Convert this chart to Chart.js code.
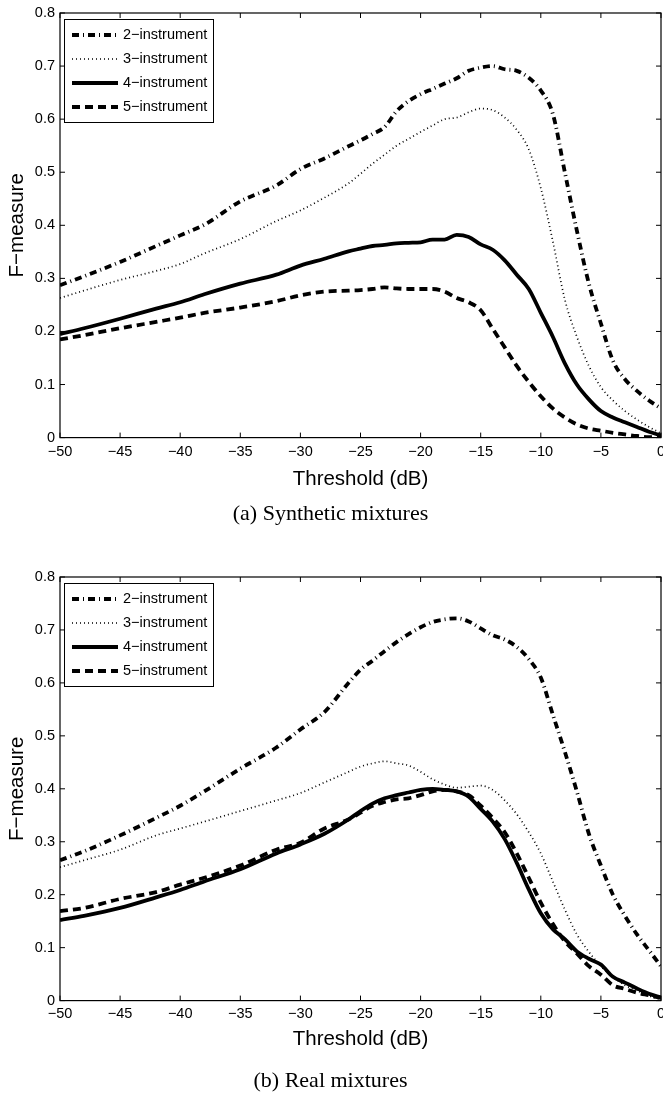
<!DOCTYPE html>
<html><head><meta charset="utf-8">
<script src="https://cdn.jsdelivr.net/npm/chart.js@4.4.1/dist/chart.umd.min.js"></script>
<style>
html,body{margin:0;padding:0;background:#fff;overflow:hidden;width:663px;height:1094px}
canvas{display:block}
</style></head><body>
<canvas id="c1" width="663" height="547"></canvas>
<canvas id="c2" width="663" height="547"></canvas>
<script>
// ---- data ----
const thresholds = [-50,-48,-45,-42,-40,-38,-35,-32,-30,-28,-26,-25,-24,-23,-22,-21,-20,-19,-18,-17,-16,-15,-14,-13,-12,-11,-10,-9,-8,-7,-6,-5,-4,-3,-2,-1,0];

const synth2 = [0.287,0.304,0.331,0.361,0.381,0.401,0.445,0.475,0.506,0.526,0.549,0.56,0.572,0.585,0.615,0.634,0.647,0.657,0.667,0.677,0.691,0.697,0.70,0.694,0.691,0.678,0.654,0.61,0.50,0.39,0.29,0.215,0.145,0.11,0.088,0.07,0.055];
const synth3 = [0.263,0.277,0.297,0.314,0.327,0.347,0.374,0.408,0.428,0.452,0.479,0.497,0.516,0.533,0.55,0.563,0.576,0.588,0.6,0.603,0.613,0.62,0.617,0.603,0.58,0.543,0.47,0.37,0.26,0.19,0.135,0.095,0.07,0.05,0.034,0.02,0.008];
const synth4 = [0.195,0.206,0.224,0.243,0.255,0.27,0.29,0.307,0.324,0.337,0.351,0.356,0.361,0.363,0.366,0.367,0.368,0.373,0.373,0.382,0.378,0.364,0.354,0.334,0.307,0.28,0.235,0.19,0.14,0.10,0.072,0.05,0.038,0.029,0.02,0.011,0.004];
const synth5 = [0.185,0.193,0.206,0.218,0.226,0.235,0.245,0.257,0.268,0.275,0.277,0.278,0.28,0.283,0.281,0.28,0.28,0.28,0.275,0.263,0.255,0.24,0.205,0.17,0.135,0.105,0.078,0.055,0.038,0.025,0.017,0.013,0.009,0.006,0.003,0.001,0.001];

const real2 = [0.265,0.282,0.312,0.345,0.368,0.395,0.438,0.478,0.512,0.545,0.60,0.625,0.642,0.66,0.677,0.692,0.705,0.715,0.72,0.722,0.716,0.703,0.69,0.682,0.668,0.645,0.61,0.54,0.47,0.395,0.315,0.255,0.2,0.16,0.125,0.095,0.065];
const real3 = [0.252,0.265,0.285,0.312,0.325,0.338,0.358,0.378,0.392,0.412,0.432,0.442,0.448,0.452,0.448,0.444,0.432,0.418,0.408,0.402,0.404,0.406,0.398,0.378,0.352,0.318,0.278,0.225,0.172,0.125,0.092,0.065,0.045,0.029,0.019,0.009,0.002];
const real4 = [0.152,0.16,0.175,0.195,0.209,0.225,0.248,0.278,0.295,0.315,0.342,0.358,0.372,0.382,0.388,0.393,0.398,0.4,0.398,0.395,0.385,0.362,0.338,0.305,0.26,0.21,0.165,0.135,0.116,0.093,0.079,0.068,0.045,0.034,0.023,0.013,0.006];
const real5 = [0.169,0.175,0.192,0.205,0.219,0.232,0.255,0.285,0.298,0.325,0.342,0.355,0.368,0.375,0.38,0.382,0.388,0.395,0.398,0.395,0.388,0.368,0.345,0.318,0.278,0.232,0.185,0.145,0.112,0.089,0.065,0.049,0.029,0.022,0.015,0.01,0.005];

const seriesNames = ['2\u2212instrument','3\u2212instrument','4\u2212instrument','5\u2212instrument'];
const captions = ['(a) Synthetic mixtures','(b) Real mixtures'];
const xTitle = 'Threshold (dB)';
const yTitle = 'F\u2212measure';

// ---- styles ----
const lineStyles = [
  {borderWidth:3.8, borderDash:[7,4,1,4]},
  {borderWidth:1.7, borderDash:[1,3]},
  {borderWidth:3.8, borderDash:[]},
  {borderWidth:3.8, borderDash:[8,5]}
];

Chart.defaults.font.family = '"Liberation Sans", Arial, sans-serif';
Chart.defaults.color = '#000';

const framePlugin = {
  id:'frame',
  afterDatasetsDraw(chart){
    const {ctx, chartArea:a, scales:{x,y}} = chart;
    ctx.save();
    ctx.strokeStyle='#000';
    ctx.lineWidth=1.2;
    ctx.strokeRect(a.left, a.top, a.right-a.left, a.bottom-a.top);
    ctx.lineWidth=1;
    ctx.beginPath();
    x.ticks.forEach(t=>{const p=x.getPixelForValue(t.value);
      ctx.moveTo(p,a.bottom); ctx.lineTo(p,a.bottom-5);
      ctx.moveTo(p,a.top); ctx.lineTo(p,a.top+5);});
    y.ticks.forEach(t=>{const p=y.getPixelForValue(t.value);
      ctx.moveTo(a.left,p); ctx.lineTo(a.left+5,p);
      ctx.moveTo(a.right,p); ctx.lineTo(a.right-5,p);});
    ctx.stroke();
    // legend box
    const lx=a.left+4, ly=a.top+6, lw=149, lh=103;
    ctx.fillStyle='#fff'; ctx.fillRect(lx,ly,lw,lh);
    ctx.strokeRect(lx+0.5,ly+0.5,lw,lh);
    ctx.font='14.5px "Liberation Sans", Arial, sans-serif';
    ctx.textBaseline='middle'; ctx.textAlign='left';
    chart.data.datasets.forEach((ds,i)=>{
      const yy=a.top+22+24*i;
      ctx.save();
      ctx.lineWidth=ds.borderWidth; ctx.setLineDash(ds.borderDash||[]); ctx.lineCap='butt';
      ctx.beginPath(); ctx.moveTo(a.left+12,yy); ctx.lineTo(a.left+58,yy); ctx.stroke();
      ctx.restore();
      ctx.fillStyle='#000';
      ctx.fillText(ds.label, a.left+63, yy);
    });
    ctx.restore();
  }
};

function makeChart(id, seriesList, caption, lay){
  return new Chart(document.getElementById(id), {
    type:'line',
    data:{datasets: seriesList.map((vals,i)=>({
      label: seriesNames[i],
      data: thresholds.map((t,j)=>({x:t,y:vals[j]})),
      borderColor:'#000',
      borderWidth: lineStyles[i].borderWidth,
      borderDash: lineStyles[i].borderDash,
      borderCapStyle:'butt', borderJoinStyle:'round',
      pointRadius:0, fill:false, cubicInterpolationMode:'monotone'
    }))},
    options:{
      responsive:false, animation:false, devicePixelRatio:1,
      layout:{padding:{top:lay.top,left:0,right:2,bottom:lay.bottom}},
      plugins:{
        legend:{display:false}, tooltip:{enabled:false},
        title:{display:true, position:'bottom', text:caption, color:'#000',
          font:{family:'"Liberation Serif", "Times New Roman", serif', size:22, weight:'normal', lineHeight:1.2},
          padding:{top:lay.capTop,bottom:0}}
      },
      scales:{
        x:{type:'linear', min:-50, max:0,
          grid:{display:false, drawTicks:false}, border:{display:false},
          ticks:{stepSize:5, padding:lay.tickPad, color:'#000', font:{size:14.5}, maxRotation:0, autoSkip:false,
            callback:v=>String(v).replace('-','\u2212')},
          title:{display:true, text:xTitle, color:'#000', font:{size:20.5}, padding:{top:0,bottom:0}},
          afterFit(s){s.height=lay.xh; s.paddingLeft=0; s.paddingRight=0;}},
        y:{type:'linear', min:0, max:0.8,
          grid:{display:false, drawTicks:false}, border:{display:false},
          ticks:{stepSize:0.1, padding:5, color:'#000', font:{size:14.5},
            callback:v=> Math.abs(v)<1e-9 ? '0' : v.toFixed(1)},
          title:{display:true, text:yTitle, color:'#000', font:{size:20.5}, padding:{top:5,bottom:0}},
          afterFit(s){s.width=60; s.paddingTop=0; s.paddingBottom=0;}}
      }
    },
    plugins:[framePlugin]
  });
}

makeChart('c1', [synth2,synth3,synth4,synth5], captions[0], {top:13,bottom:20,capTop:9,xh:54,tickPad:6});
makeChart('c2', [real2,real3,real4,real5], captions[1], {top:30,bottom:0,capTop:16,xh:51,tickPad:5});
</script>
</body></html>
